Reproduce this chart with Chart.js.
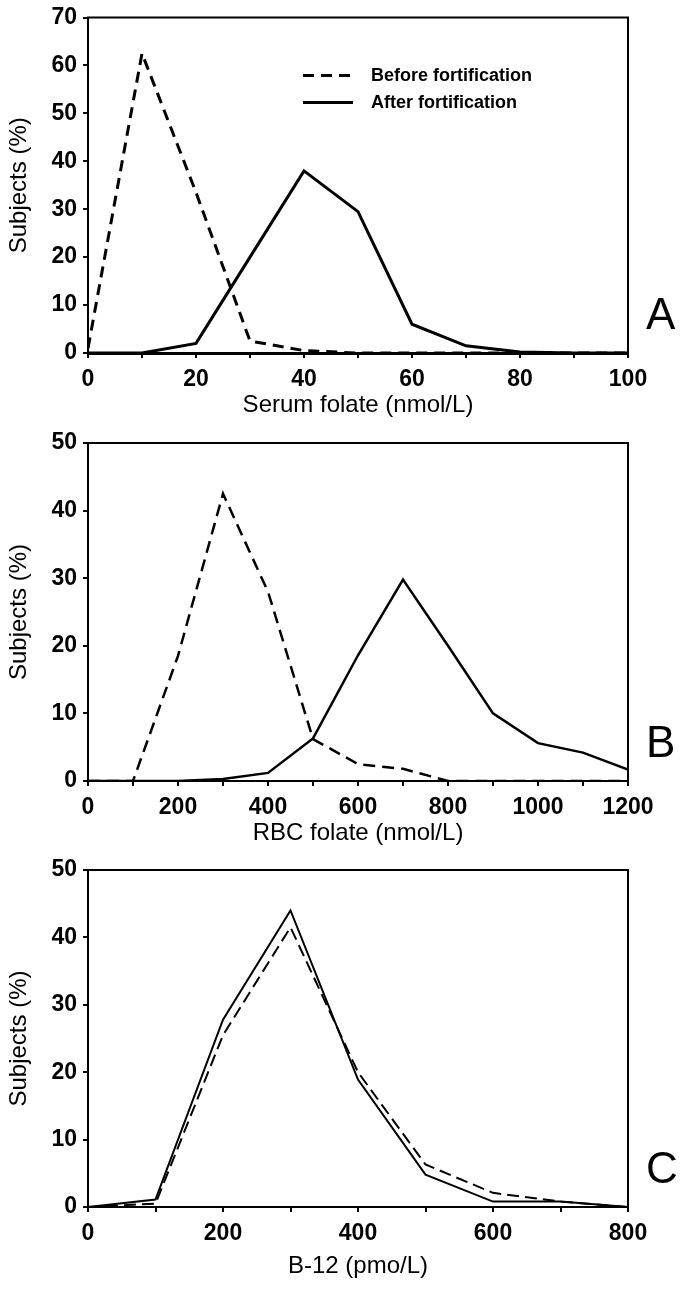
<!DOCTYPE html>
<html>
<head>
<meta charset="utf-8">
<script src="https://cdn.jsdelivr.net/npm/chart.js@4.4.1/dist/chart.umd.min.js"></script>
<style>
  body { margin: 0; background: #fff; }
  .panel { position: absolute; left: 0; }
</style>
</head>
<body>
<div class="panel" style="top:0px"><canvas id="chartA" width="683" height="425"></canvas></div>
<div class="panel" style="top:425px"><canvas id="chartB" width="683" height="425"></canvas></div>
<div class="panel" style="top:850px"><canvas id="chartC" width="683" height="439"></canvas></div>
<script>
const serieLabels = ['Before fortification', 'After fortification'];

const serumX = [0, 10, 20, 30, 40, 50, 60, 70, 80, 90, 100];
const serumBefore = [1, 62.5, 33.5, 2.5, 0.5, 0, 0, 0, 0, 0, 0];
const serumAfter = [0, 0, 2, 20, 38, 29.5, 6, 1.5, 0.2, 0, 0];

const rbcX = [0, 100, 200, 300, 400, 500, 600, 700, 800, 900, 1000, 1100, 1200];
const rbcBefore = [0, 0, 18.5, 42.5, 28, 6.2, 2.5, 1.8, 0, 0, 0, 0, 0];
const rbcAfter = [0, 0, 0, 0.3, 1.2, 6.3, 18.6, 29.8, 20, 10, 5.6, 4.2, 1.7];

const b12X = [0, 100, 200, 300, 400, 500, 600, 700, 800];
const b12Before = [0, 0.5, 25.5, 41.5, 20, 6.3, 2.1, 0.8, 0];
const b12After = [0, 1.1, 27.8, 44, 18.9, 4.8, 0.8, 0.8, 0];

Chart.defaults.font.family = "'Liberation Sans', Arial, sans-serif";
Chart.defaults.color = '#000';

// caja alrededor del area del grafico
const marco = {
    id: 'marco',
    afterDatasetsDraw(chart) {
        const { ctx, chartArea: a } = chart;
        ctx.save();
        ctx.strokeStyle = '#000';
        ctx.lineWidth = 2;
        ctx.strokeRect(a.left, a.top, a.right - a.left, a.bottom - a.top);
        ctx.restore();
    }
};

const letra = {
    id: 'letra',
    afterDraw(chart, args, opts) {
        if (!opts.text) return;
        const { ctx, chartArea: a } = chart;
        ctx.save();
        ctx.font = "44px 'Liberation Sans', Arial, sans-serif";
        ctx.fillStyle = '#000';
        ctx.textAlign = 'left';
        ctx.textBaseline = 'middle';
        ctx.fillText(opts.text, a.right + 18, a.top + 0.893 * (a.bottom - a.top));
        ctx.restore();
    }
};

const leyenda = {
    id: 'leyenda',
    afterDraw(chart, args, opts) {
        if (!opts.show) return;
        const { ctx, chartArea: a } = chart;
        ctx.save();
        ctx.font = "bold 18px 'Liberation Sans', Arial, sans-serif";
        ctx.textBaseline = 'middle';
        ctx.fillStyle = '#000';
        chart.data.datasets.forEach((ds, i) => {
            let y = a.top + 58 + i * 27;
            ctx.strokeStyle = '#000';
            ctx.lineWidth = 3;
            ctx.setLineDash(ds.borderDash || []);
            ctx.beginPath();
            ctx.moveTo(a.left + 215, y);
            ctx.lineTo(a.left + 265, y);
            ctx.stroke();
            ctx.setLineDash([]);
            ctx.fillText(ds.label, a.left + 283, y + 1);
        });
        ctx.restore();
    }
};

let puntos = (xs, ys) => xs.map((x, i) => ({ x: x, y: ys[i] }));

let crearGrafico = (id, xs, antes, despues, cfg) => new Chart(document.getElementById(id), {
    type: 'line',
    data: {
        datasets: [{
            label: serieLabels[0],
            data: puntos(xs, antes),
            borderColor: '#000',
            borderWidth: cfg.lw,
            borderDash: cfg.dash,
            pointRadius: 0,
            tension: 0
        }, {
            label: serieLabels[1],
            data: puntos(xs, despues),
            borderColor: '#000',
            borderWidth: cfg.lw,
            pointRadius: 0,
            tension: 0
        }]
    },
    options: {
        responsive: false,
        animation: false,
        layout: { padding: { top: cfg.top, right: 55, left: 0, bottom: 0 } },
        plugins: {
            legend: { display: false },
            tooltip: { enabled: false },
            letra: { text: cfg.tag },
            leyenda: { show: cfg.key }
        },
        scales: {
            x: {
                type: 'linear',
                min: 0,
                max: cfg.xMax,
                afterFit: s => { s.height = cfg.xh; },
                ticks: {
                    stepSize: cfg.xStep,
                    autoSkip: false,
                    maxRotation: 0,
                    padding: 10,
                    font: { size: 23, weight: 'bold', lineHeight: 1 },
                    callback: v => (v % cfg.xEvery === 0 ? String(v) : '')
                },
                grid: { drawOnChartArea: false, tickLength: 5, color: '#000', lineWidth: 2 },
                border: { color: '#000', width: cfg.axisW },
                title: {
                    display: true,
                    text: cfg.xTitle,
                    font: { size: 24, lineHeight: 1 },
                    padding: { top: 0, bottom: cfg.titlePad }
                }
            },
            y: {
                min: 0,
                max: cfg.yMax,
                afterFit: s => { s.width = 88; },
                ticks: {
                    stepSize: 10,
                    padding: 6,
                    font: { size: 23, weight: 'bold', lineHeight: 1 },
                    callback: v => String(v)
                },
                grid: { drawOnChartArea: false, tickLength: 5, color: '#000', lineWidth: 2 },
                border: { color: '#000', width: 2 },
                title: {
                    display: true,
                    text: 'Subjects (%)',
                    font: { size: 24, lineHeight: 1 },
                    padding: { top: 7, bottom: 0 }
                }
            }
        }
    },
    plugins: [marco, letra, leyenda]
});

crearGrafico('chartA', serumX, serumBefore, serumAfter, {
    tag: 'A', key: true, top: 17, xh: 72, titlePad: 8, lw: 3, axisW: 3, dash: [11, 7],
    xMax: 100, xStep: 10, xEvery: 20, yMax: 70, xTitle: 'Serum folate (nmol/L)'
});

crearGrafico('chartB', rbcX, rbcBefore, rbcAfter, {
    tag: 'B', key: false, top: 18, xh: 69, titlePad: 5, lw: 2.5, axisW: 2, dash: [12, 7],
    xMax: 1200, xStep: 100, xEvery: 200, yMax: 50, xTitle: 'RBC folate (nmol/L)'
});

crearGrafico('chartC', b12X, b12Before, b12After, {
    tag: 'C', key: false, top: 20, xh: 82, titlePad: 11, lw: 2, axisW: 2, dash: [12, 6],
    xMax: 800, xStep: 100, xEvery: 200, yMax: 50, xTitle: 'B-12 (pmo/L)'
});
</script>
</body>
</html>
